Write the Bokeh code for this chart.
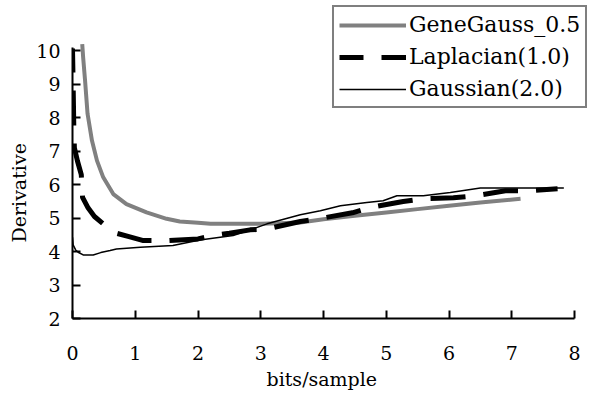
from bokeh.plotting import figure
from bokeh.models import FixedTicker, Legend, LegendItem, Range1d, Title
from bokeh.embed import file_html
from bokeh.resources import INLINE

# ---- data ----
x_ticks = [0, 1, 2, 3, 4, 5, 6, 7, 8]
y_ticks = [2, 3, 4, 5, 6, 7, 8, 9, 10]

gg_x = [0.155, 0.17, 0.20, 0.24, 0.31, 0.39, 0.49, 0.65, 0.86, 1.18, 1.50, 1.71,
        2.00, 2.20, 2.50, 3.00, 3.30, 3.63, 4.00, 4.50, 5.00, 5.50, 6.00, 6.50, 7.14]
gg_y = [10.20, 9.80, 9.12, 8.12, 7.32, 6.72, 6.22, 5.72, 5.42, 5.17, 4.98, 4.90,
        4.86, 4.83, 4.83, 4.83, 4.85, 4.87, 4.97, 5.07, 5.17, 5.27, 5.37, 5.47, 5.58]

lap_x = [0.00, 0.01, 0.02, 0.03, 0.08, 0.14, 0.16, 0.25, 0.35, 0.49, 0.70, 0.90,
         1.13, 1.50, 2.00, 2.24, 2.50, 2.83, 3.10, 3.63, 3.92, 4.46, 4.74, 5.27,
         5.60, 6.07, 6.42, 6.90, 7.25, 7.73]
lap_y = [10.07, 9.00, 7.80, 7.10, 6.70, 6.30, 5.62, 5.30, 5.05, 4.83, 4.55, 4.45,
         4.33, 4.33, 4.38, 4.48, 4.55, 4.65, 4.68, 4.90, 4.98, 5.16, 5.32, 5.50,
         5.58, 5.61, 5.67, 5.82, 5.82, 5.88]

ga_x = [0.00, 0.01, 0.05, 0.09, 0.17, 0.33, 0.45, 0.60, 0.70, 1.08, 1.60, 2.03,
        2.56, 2.88, 3.10, 3.63, 3.95, 4.27, 4.69, 4.95, 5.17, 5.59, 6.02, 6.50,
        6.94, 7.83]
ga_y = [4.43, 4.20, 4.05, 3.98, 3.90, 3.90, 3.97, 4.03, 4.08, 4.13, 4.18, 4.35,
        4.48, 4.68, 4.83, 5.10, 5.22, 5.37, 5.47, 5.52, 5.67, 5.67, 5.77, 5.90,
        5.90, 5.90]

series_names = ["GeneGauss_0.5", "Laplacian(1.0)", "Gaussian(2.0)"]
x_label = "bits/sample"
y_label = "Derivative"

FONT = "DejaVu Serif"

# frame spans the whole top/right so that the legend (which overlaps the top
# edge of the axes area) is not clipped; axes are bounded to the data area.
p = figure(width=603, height=401, output_backend="svg", toolbar_location=None,
           x_range=Range1d(0, 8.462), y_range=Range1d(2, 11.507),
           min_border_left=72, min_border_right=0, min_border_top=0,
           min_border_bottom=83)
p.outline_line_color = None
p.xgrid.visible = False
p.ygrid.visible = False
p.background_fill_color = "white"
p.border_fill_color = "white"

r1 = p.line(gg_x, gg_y, line_color="#808080", line_width=4)
r2 = p.line(lap_x, lap_y, line_color="black", line_width=5, line_dash="35 18",
            line_dash_offset=11)
r3 = p.line(ga_x, ga_y, line_color="black", line_width=1.5)

for ax in (p.xaxis[0], p.yaxis[0]):
    ax.axis_line_color = "black"
    ax.axis_line_width = 2
    ax.major_tick_line_color = "black"
    ax.major_tick_line_width = 2
    ax.major_tick_in = 8
    ax.major_tick_out = 0
    ax.minor_tick_line_color = None
    ax.major_label_text_font = FONT
    ax.major_label_text_font_size = "19px"
    ax.major_label_text_color = "black"

p.xaxis[0].ticker = FixedTicker(ticks=x_ticks)
p.yaxis[0].ticker = FixedTicker(ticks=y_ticks)
p.xaxis[0].bounds = (0, 8)
p.yaxis[0].bounds = (2, 10.1)
p.xaxis[0].major_label_standoff = 27
p.yaxis[0].major_label_standoff = 12

# axis titles, positioned on the drawn axis extents
ytitle = Title(text=y_label, align="left", vertical_align="middle", offset=76,
               standoff=6, text_font=FONT, text_font_size="19px",
               text_font_style="normal", text_color="black")
p.add_layout(ytitle, "left")
xtitle = Title(text=x_label, align="left", vertical_align="middle", offset=194,
               standoff=8, text_font=FONT, text_font_size="19px",
               text_font_style="normal", text_color="black")
p.add_layout(xtitle, "below")

legend = Legend(items=[LegendItem(label=series_names[0], renderers=[r1]),
                       LegendItem(label=series_names[1], renderers=[r2]),
                       LegendItem(label=series_names[2], renderers=[r3])],
                location=(260, 210), orientation="vertical")
legend.label_text_font = FONT
legend.label_text_font_size = "22px"
legend.label_text_color = "black"
legend.glyph_width = 67
legend.glyph_height = 20
legend.label_height = 20
legend.label_standoff = 3
legend.spacing = 7
legend.padding = 5
legend.margin = 0
legend.border_line_color = "black"
legend.border_line_width = 2
legend.background_fill_color = "white"
legend.background_fill_alpha = 1.0
p.add_layout(legend, "center")

open("out.html", "w").write(file_html(p, INLINE))
